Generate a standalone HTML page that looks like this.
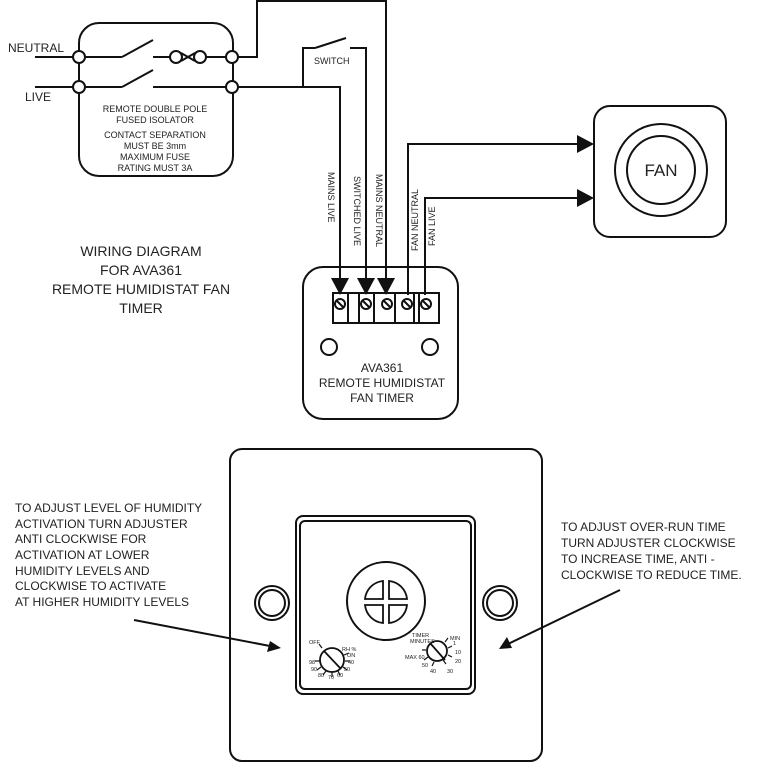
<!DOCTYPE html>
<html><head><meta charset="utf-8"><style>
html,body{margin:0;padding:0;background:#fff}
svg{display:block}
text{font-family:"Liberation Sans",sans-serif;fill:#222}
</style></head><body>
<svg width="766" height="771" viewBox="0 0 766 771" xmlns="http://www.w3.org/2000/svg">
<defs>
<marker id="ah" markerWidth="10" markerHeight="10" refX="9" refY="5" orient="auto" markerUnits="userSpaceOnUse"><path d="M0,0 L10,5 L0,10 z" fill="#111"/></marker>
</defs>
<g fill="none" stroke="#111" stroke-width="2">
<!-- isolator box -->
<rect x="79" y="23" width="154" height="153" rx="20"/>
<line x1="35" y1="57" x2="73" y2="57"/>
<line x1="35" y1="87" x2="73" y2="87"/>
<line x1="85" y1="57" x2="122" y2="57"/><line x1="122" y1="57" x2="153" y2="40"/>
<line x1="85" y1="87" x2="122" y2="87"/><line x1="122" y1="87" x2="153" y2="70"/>
<line x1="153" y1="57" x2="170" y2="57"/>
<circle cx="176" cy="57" r="6"/><circle cx="200" cy="57" r="6"/>
<line x1="181" y1="53" x2="195" y2="61"/><line x1="181" y1="61" x2="195" y2="53"/>
<line x1="206" y1="57" x2="226" y2="57"/>
<line x1="153" y1="87" x2="226" y2="87"/>
<!-- wires -->
<polyline points="238,57 257,57 257,1 386,1 386,283"/>
<polyline points="238,87 340,87 340,283"/>
<polyline points="303,87 303,48 315,48"/>
<line x1="315" y1="48" x2="346" y2="38"/>
<polyline points="350,48 366,48 366,283"/>
<polyline points="408,295 408,144 586,144"/>
<polyline points="425,295 425,198 586,198"/>
</g>
<g fill="#fff" stroke="#111" stroke-width="2">
<circle cx="79" cy="57" r="6"/><circle cx="79" cy="87" r="6"/>
<circle cx="232" cy="57" r="6"/><circle cx="232" cy="87" r="6"/>
</g>
<g fill="#111">
<path d="M331,278 L349,278 L340,295 z"/>
<path d="M357,278 L375,278 L366,295 z"/>
<path d="M377,278 L395,278 L386,295 z"/>
<path d="M577,135 L594,144 L577,153 z"/>
<path d="M577,189 L594,198 L577,207 z"/>
</g>
<text x="8" y="52" font-size="12">NEUTRAL</text>
<text x="25" y="101" font-size="12">LIVE</text>
<text x="314" y="64" font-size="9">SWITCH</text>
<g font-size="9" text-anchor="middle">
<text x="155" y="112">REMOTE DOUBLE POLE</text>
<text x="155" y="123">FUSED ISOLATOR</text>
<text x="155" y="138">CONTACT SEPARATION</text>
<text x="155" y="149">MUST BE 3mm</text>
<text x="155" y="160">MAXIMUM FUSE</text>
<text x="155" y="171">RATING MUST 3A</text>
</g>
<g font-size="9">
<text transform="translate(328,172) rotate(90)">MAINS LIVE</text>
<text transform="translate(354,176) rotate(90)">SWITCHED LIVE</text>
<text transform="translate(376,174) rotate(90)">MAINS NEUTRAL</text>
<text transform="translate(418,251) rotate(-90)">FAN NEUTRAL</text>
<text transform="translate(435,246) rotate(-90)">FAN LIVE</text>
</g>
<g font-size="14" text-anchor="middle">
<text x="141" y="256">WIRING DIAGRAM</text>
<text x="141" y="275">FOR AVA361</text>
<text x="141" y="294">REMOTE HUMIDISTAT FAN</text>
<text x="141" y="313">TIMER</text>
</g>
<!-- fan -->
<g fill="none" stroke="#111" stroke-width="2">
<rect x="594" y="106" width="132" height="131" rx="16"/>
<circle cx="661" cy="170" r="46"/>
<circle cx="661" cy="170" r="34"/>
</g>
<text x="661" y="176" font-size="17" text-anchor="middle">FAN</text>
<!-- remote unit -->
<g fill="none" stroke="#111" stroke-width="2">
<rect x="303" y="267" width="155" height="152" rx="20"/>
<rect x="333" y="293" width="106" height="30"/>
<line x1="348" y1="293" x2="348" y2="323"/><line x1="359" y1="293" x2="359" y2="323"/>
<line x1="374" y1="293" x2="374" y2="323"/><line x1="395" y1="293" x2="395" y2="323"/>
<line x1="414" y1="293" x2="414" y2="323"/><line x1="419" y1="293" x2="419" y2="323"/>
<circle cx="340" cy="304" r="5"/><line x1="336" y1="300" x2="344" y2="308"/>
<circle cx="366" cy="304" r="5"/><line x1="362" y1="300" x2="370" y2="308"/>
<circle cx="387" cy="304" r="5"/><line x1="383" y1="300" x2="391" y2="308"/>
<circle cx="407" cy="304" r="5"/><line x1="403" y1="300" x2="411" y2="308"/>
<circle cx="426" cy="304" r="5"/><line x1="422" y1="300" x2="430" y2="308"/>
<circle cx="329" cy="347" r="8"/>
<circle cx="430" cy="347" r="8"/>
</g>
<g font-size="12" text-anchor="middle">
<text x="382" y="372">AVA361</text>
<text x="382" y="387">REMOTE HUMIDISTAT</text>
<text x="382" y="402">FAN TIMER</text>
</g>
<!-- plate -->
<g fill="none" stroke="#111" stroke-width="2">
<rect x="230" y="449" width="312" height="312" rx="12"/>
<rect x="296" y="516" width="179" height="178" rx="7"/>
<rect x="300" y="521" width="171" height="168" rx="5"/>
<circle cx="386" cy="601" r="39"/>
<circle cx="272" cy="603" r="17"/><circle cx="272" cy="603" r="13"/>
<circle cx="500" cy="603" r="17"/><circle cx="500" cy="603" r="13"/>
</g>
<g fill="none" stroke="#111" stroke-width="1.8">
<path d="M383,581 A20,20 0 0 0 365,599 L383,599 Z"/>
<path d="M389,581 A20,20 0 0 1 407,599 L389,599 Z"/>
<path d="M383,623 A20,20 0 0 1 365,605 L383,605 Z"/>
<path d="M389,623 A20,20 0 0 0 407,605 L389,605 Z"/>
<circle cx="332" cy="660" r="12"/>
<line x1="324" y1="651" x2="341" y2="669"/>
<circle cx="437" cy="651" r="10"/>
<line x1="430" y1="643" x2="445" y2="660"/>
</g>
<g stroke="#111" stroke-width="1.2">
<line x1="322" y1="648" x2="319" y2="644"/><line x1="344" y1="655" x2="349" y2="653"/>
<line x1="345" y1="661" x2="350" y2="661"/><line x1="343" y1="667" x2="347" y2="670"/>
<line x1="338" y1="671" x2="340" y2="675"/><line x1="332" y1="672" x2="332" y2="677"/>
<line x1="326" y1="671" x2="323" y2="675"/><line x1="321" y1="667" x2="317" y2="670"/>
<line x1="320" y1="661" x2="315" y2="661"/>
<line x1="445" y1="642" x2="448" y2="638"/><line x1="448" y1="648" x2="452" y2="646"/>
<line x1="448" y1="655" x2="452" y2="657"/><line x1="443" y1="660" x2="446" y2="664"/>
<line x1="434" y1="662" x2="432" y2="666"/><line x1="428" y1="657" x2="424" y2="660"/>
<line x1="426" y1="650" x2="422" y2="650"/>
</g>
<g font-size="5.5">
<text x="309" y="644">OFF</text><text x="342" y="651">RH %</text>
<text x="347" y="657">ON</text><text x="348" y="664">40</text><text x="344" y="671">50</text>
<text x="337" y="677">60</text><text x="328" y="679">70</text><text x="318" y="677">80</text>
<text x="311" y="671">90</text><text x="309" y="664">98</text>
<text x="412" y="637">TIMER</text><text x="410" y="643">MINUTES</text>
<text x="450" y="640">MIN</text><text x="453" y="645">1</text>
<text x="455" y="654">10</text><text x="455" y="663">20</text><text x="447" y="673">30</text>
<text x="430" y="673">40</text><text x="422" y="667">50</text><text x="405" y="659">MAX 60</text>
</g>
<g font-size="12">
<text x="15" y="512">TO ADJUST LEVEL OF HUMIDITY</text>
<text x="15" y="528">ACTIVATION TURN ADJUSTER</text>
<text x="15" y="543">ANTI CLOCKWISE FOR</text>
<text x="15" y="559">ACTIVATION AT LOWER</text>
<text x="15" y="575">HUMIDITY LEVELS AND</text>
<text x="15" y="590">CLOCKWISE TO ACTIVATE</text>
<text x="15" y="606">AT HIGHER HUMIDITY LEVELS</text>
<text x="561" y="531">TO ADJUST OVER-RUN TIME</text>
<text x="561" y="547">TURN ADJUSTER CLOCKWISE</text>
<text x="561" y="563">TO INCREASE TIME, ANTI -</text>
<text x="561" y="579">CLOCKWISE TO REDUCE TIME.</text>
</g>
<g stroke="#111" stroke-width="2" fill="none">
<line x1="134" y1="620" x2="270" y2="646"/>
<line x1="620" y1="590" x2="508" y2="644"/>
</g>
<path d="M281,648 L267,652 L270,641 z" fill="#111"/>
<path d="M499,649 L507,637 L512,648 z" fill="#111"/>
</svg>
</body></html>
